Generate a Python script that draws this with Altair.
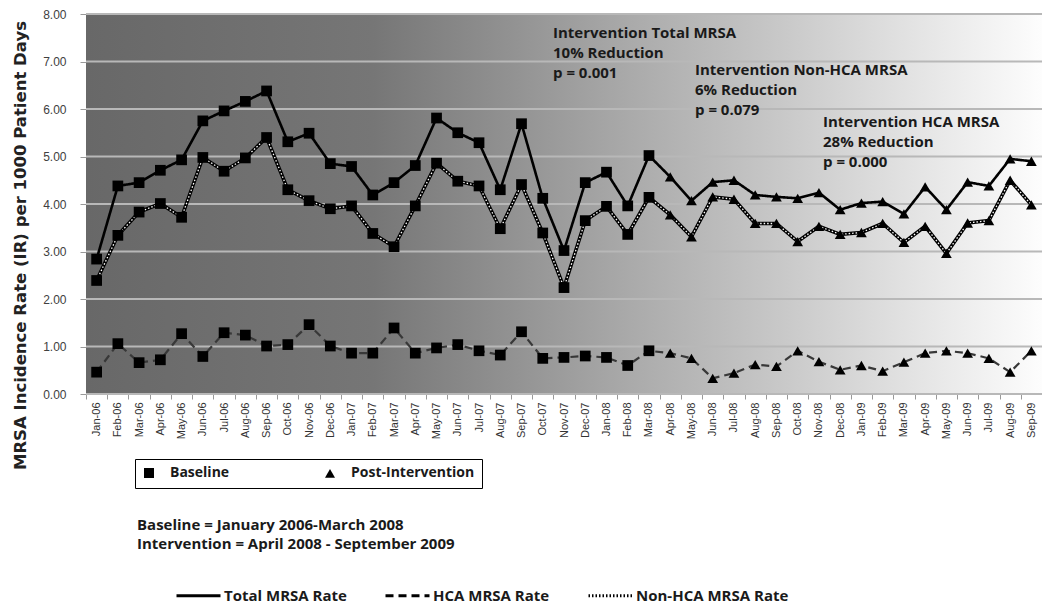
import altair as alt
import pandas as pd

months = ["Jan-06", "Feb-06", "Mar-06", "Apr-06", "May-06", "Jun-06", "Jul-06", "Aug-06",
          "Sep-06", "Oct-06", "Nov-06", "Dec-06", "Jan-07", "Feb-07", "Mar-07", "Apr-07",
          "May-07", "Jun-07", "Jul-07", "Aug-07", "Sep-07", "Oct-07", "Nov-07", "Dec-07",
          "Jan-08", "Feb-08", "Mar-08", "Apr-08", "May-08", "Jun-08", "Jul-08", "Aug-08",
          "Sep-08", "Oct-08", "Nov-08", "Dec-08", "Jan-09", "Feb-09", "Mar-09", "Apr-09",
          "May-09", "Jun-09", "Jul-09", "Aug-09", "Sep-09"]

total_rate = [2.84, 4.38, 4.45, 4.71, 4.93, 5.75, 5.96, 6.16, 6.38, 5.31, 5.49, 4.85,
              4.79, 4.19, 4.45, 4.81, 5.81, 5.50, 5.29, 4.30, 5.69, 4.12, 3.02, 4.45,
              4.67, 3.96, 5.02, 4.57, 4.07, 4.46, 4.50, 4.19, 4.15, 4.12, 4.24, 3.88,
              4.02, 4.05, 3.79, 4.36, 3.88, 4.46, 4.38, 4.95, 4.90]

hca_rate = [0.46, 1.06, 0.66, 0.72, 1.27, 0.79, 1.29, 1.24, 1.01, 1.04, 1.46, 1.01,
            0.86, 0.86, 1.39, 0.86, 0.97, 1.04, 0.91, 0.82, 1.31, 0.75, 0.77, 0.80,
            0.77, 0.60, 0.91, 0.86, 0.75, 0.33, 0.44, 0.62, 0.58, 0.91, 0.68, 0.51,
            0.60, 0.48, 0.67, 0.86, 0.91, 0.86, 0.75, 0.46, 0.91]

non_hca_rate = [2.39, 3.34, 3.83, 4.01, 3.72, 4.98, 4.69, 4.97, 5.40, 4.30, 4.07, 3.90,
                3.96, 3.38, 3.10, 3.96, 4.86, 4.48, 4.38, 3.48, 4.41, 3.39, 2.24, 3.65,
                3.95, 3.36, 4.14, 3.77, 3.31, 4.15, 4.10, 3.59, 3.59, 3.21, 3.53, 3.36,
                3.40, 3.59, 3.19, 3.53, 2.96, 3.60, 3.65, 4.50, 3.98]

# Baseline = Jan 2006 - Mar 2008 (27 months), Intervention = Apr 2008 - Sep 2009 (18 months)
period = ["Baseline"] * 27 + ["Post-Intervention"] * 18

series_names = ["Total MRSA Rate", "HCA MRSA Rate", "Non-HCA MRSA Rate"]
period_names = ["Baseline", "Post-Intervention"]
y_ticks = [0, 1, 2, 3, 4, 5, 6, 7, 8]

anno_total = ["Intervention Total MRSA", "10% Reduction", "p = 0.001"]
anno_nonhca = ["Intervention Non-HCA MRSA", "6% Reduction", "p = 0.079"]
anno_hca = ["Intervention HCA MRSA", "28% Reduction", "p = 0.000"]
footnote = ["Baseline = January 2006-March 2008", "Intervention = April 2008 - September 2009"]
y_title = "MRSA Incidence Rate (IR) per 1000 Patient Days"

rows = []
for name, vals in zip(series_names, [total_rate, hca_rate, non_hca_rate]):
    for m, v, p in zip(months, vals, period):
        rows.append({"month": m, "series": name, "value": v, "period": p})
df = pd.DataFrame(rows)

W, H = 956, 380
PAD_TOP = 6
TEXT_FONT = "Open Sans"

x_scale = alt.Scale(type="band", domain=months, paddingInner=0, paddingOuter=0)
y_scale = alt.Scale(domain=[0, 8], nice=False, zero=True)

x_axis = alt.Axis(labelAngle=270, labelFont="Liberation Sans", labelFontSize=11,
                  labelColor="#333333", tickSize=5, tickColor="#999999",
                  domainColor="#999999", tickBand="extent", labelPadding=3,
                  grid=False, labelOverlap=False, title=None)
y_axis = alt.Axis(values=y_ticks, format=".2f", grid=False, title=y_title,
                  labelFont="Liberation Sans", labelFontSize=12, labelColor="#404040",
                  labelPadding=14, tickSize=6, tickColor="#999999",
                  domainColor="#999999",
                  titleFont="DejaVu Sans", titleFontSize=16.5, titleFontWeight="bold",
                  titleColor="#222222", titleAngle=270, titleX=-61, titleY=231,
                  titleBaseline="alphabetic", titleAlign="center")

X = alt.X("month:N", sort=months, scale=x_scale, axis=x_axis)
Y = alt.Y("value:Q", scale=y_scale, axis=y_axis)

gradient = alt.LinearGradient(
    gradient="linear",
    stops=[alt.GradientStop(offset=0, color="#686868"),
           alt.GradientStop(offset=0.3, color="#767676"),
           alt.GradientStop(offset=1, color="#fdfdfd")],
    x1=0, x2=1, y1=0, y2=0)

bg = alt.Chart(alt.Data(values=[{}])).mark_rect(color=gradient).encode(
    x=alt.value(0), x2=alt.value(W), y=alt.value(0), y2=alt.value(H))

grid = alt.Chart(pd.DataFrame({"value": y_ticks})).mark_rule(
    color="#b8b8b8", strokeWidth=2).encode(y=Y)

series_legend = alt.Legend(
    orient="none", legendX=89, legendY=558, direction="horizontal", title=None,
    symbolType="stroke", symbolSize=1936, symbolStrokeWidth=3, symbolStrokeColor="black",
    labelFont=TEXT_FONT, labelFontWeight="bold", labelFontSize=15, labelColor="#1a1a1a",
    columnPadding=32, labelOffset=2, padding=0)

dash = alt.StrokeDash("series:N", scale=alt.Scale(domain=series_names,
                      range=[[1, 0], [8, 5], [1.5, 2]]), legend=series_legend)

nonhca_base = alt.Chart(df).transform_filter(
    alt.datum.series == "Non-HCA MRSA Rate").mark_line(
    color="black", strokeWidth=3.6).encode(x=X, y=Y)

line_total = alt.Chart(df).transform_filter(
    alt.datum.series == "Total MRSA Rate").mark_line(
    color="black", strokeWidth=2.6).encode(x=X, y=Y, strokeDash=dash)

line_hca = alt.Chart(df).transform_filter(
    alt.datum.series == "HCA MRSA Rate").mark_line(
    color="#383838", strokeWidth=2.2).encode(x=X, y=Y, strokeDash=dash)

line_nonhca = alt.Chart(df).transform_filter(
    alt.datum.series == "Non-HCA MRSA Rate").mark_line(
    color="white", strokeWidth=1.3).encode(x=X, y=Y, strokeDash=dash)

shape_legend = alt.Legend(
    orient="none", legendX=49, legendY=445, direction="horizontal", title=None,
    strokeColor="black", padding=7, symbolFillColor="#555555", symbolStrokeColor="#555555",
    labelFont=TEXT_FONT, labelFontWeight="bold", labelFontSize=14, labelColor="#1a1a1a",
    columnPadding=92, labelOffset=14)

points = alt.Chart(df).mark_point(filled=True, color="black", opacity=1, size=115).encode(
    x=X, y=Y,
    shape=alt.Shape("period:N", scale=alt.Scale(domain=period_names,
                    range=["square", "triangle-up"]), legend=shape_legend),
    detail="series:N")


def text_block(lines_, x, y, size=15, line_height=20):
    return alt.Chart(alt.Data(values=[{}])).mark_text(
        text=lines_, align="left", baseline="middle", font=TEXT_FONT, fontWeight="bold",
        fontSize=size, lineHeight=line_height, color="#1a1a1a").encode(
        x=alt.value(x), y=alt.value(y))


annos = (text_block(anno_total, 467, 19) + text_block(anno_nonhca, 609, 56)
         + text_block(anno_hca, 737, 108) + text_block(footnote, 51, 511, 15, 19))

chart = alt.layer(bg, grid, nonhca_base, line_total, line_hca, line_nonhca, points,
                  annos).properties(
    width=W, height=H,
    autosize=alt.AutoSizeParams(type="none"),
    padding={"left": 78, "top": PAD_TOP, "right": 0, "bottom": 600 - H - PAD_TOP},
).configure_view(stroke=None).configure(background="white")

chart.save("out.html", embed_options={"renderer": "svg", "actions": False})
